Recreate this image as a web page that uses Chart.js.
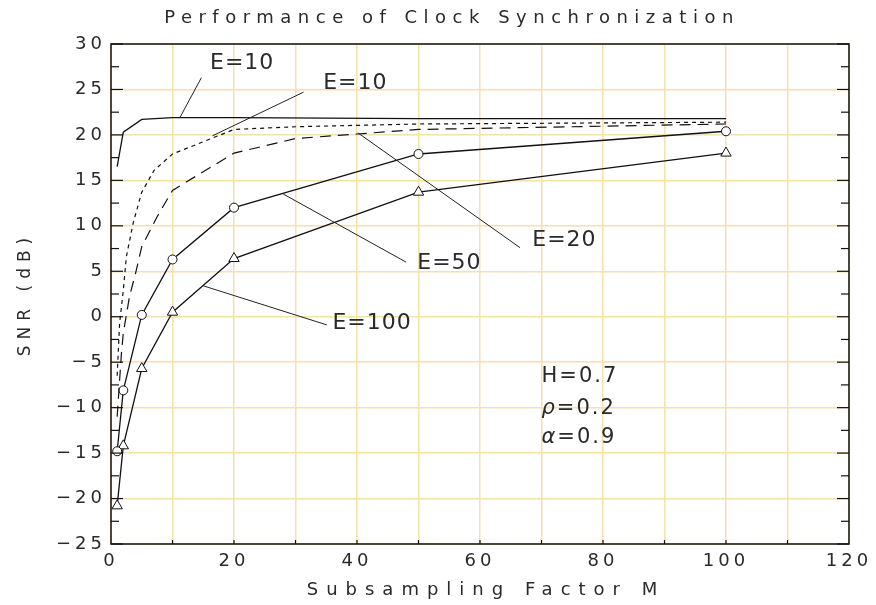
<!DOCTYPE html>
<html>
<head>
<meta charset="utf-8">
<title>Performance of Clock Synchronization</title>
<script src="https://cdn.jsdelivr.net/npm/chart.js@4.4.0/dist/chart.umd.min.js"></script>
<style>
  html, body { margin: 0; padding: 0; background: #fff; }
  #snrChart { display: block; }
</style>
</head>
<body>
<canvas id="snrChart" width="876" height="605"></canvas>
<script>
// Subsampling factors where the marked curves were evaluated
const M_POINTS = [1, 2, 5, 10, 20, 50, 100];

// SNR (dB) per curve
const SNR_E100 = [-20.8, -14.2, -5.7, 0.5, 6.4, 13.7, 18.0];
const SNR_E50 = [-14.8, -8.1, 0.2, 6.3, 12.0, 17.9, 20.4];
const SNR_E10_SOLID = [16.5, 20.3, 21.7, 21.9, 21.9, 21.8, 21.8];

// dashed curves are sampled more densely
const M_E20 = [1, 1.7, 2, 3, 4, 5, 7.5, 10, 20, 30, 40, 50, 100];
const SNR_E20 = [-11, -4, -1.8, 2.2, 4.8, 7.7, 11, 13.9, 18.0, 19.6, 20.1, 20.6, 21.2];
const M_E10 = [1, 1.4, 2, 2.5, 3.6, 5, 7, 10, 20, 30, 50, 100];
const SNR_E10 = [-6.5, -0.7, 2.9, 6.6, 10.3, 13.7, 16.1, 17.9, 20.6, 20.9, 21.2, 21.4];

// axis ranges / tick steps
const X_RANGE = [0, 120];
const Y_RANGE = [-25, 30];
const X_GRID_STEP = 10, X_LABEL_STEP = 20;
const Y_GRID_STEP = 2.5, Y_LABEL_STEP = 5;

const TEXT_COLOR = '#2a2a2a';
const GRID_COLOR = '#f4e2a8';
const FONT = '"DejaVu Sans", sans-serif';

// callouts: [label, label x, label y, pointer from, pointer to] in data units
const callouts = [
    ['E=10', 16.1, 27.9, [14.7, 26.3], [11.2, 21.9]],
    ['E=10', 34.5, 25.7, [31.3, 24.7], [16.5, 19.9]],
    ['E=20', 68.5, 8.4, [40.2, 20.2], [66.5, 7.6]],
    ['E=50', 49.8, 5.9, [28, 13.5], [48, 6.0]],
    ['E=100', 36, -0.7, [15, 3.4], [35.1, -0.9]]
];
// parameter block: [symbol, value text, y]
const params = [['H', '=0.7', -6.6], ['\u03C1', '=0.2', -10.1], ['\u03B1', '=0.9', -13.3]];

function toPoints(xs, ys) {
    return xs.map((x, i) => ({ x: x, y: ys[i] }));
}

function fmtMinus(v) {
    return String(v).replace('-', '\u2212');
}

// frame, inward ticks, titles and the callout text
const decorations = {
    id: 'decorations',
    afterDraw(chart) {
        const { ctx, chartArea: a, scales: { x, y } } = chart;
        const seg = (x1, y1, x2, y2) => {
            ctx.beginPath();
            ctx.moveTo(x1, y1);
            ctx.lineTo(x2, y2);
            ctx.stroke();
        };
        ctx.save();
        ctx.strokeStyle = '#111';
        ctx.lineWidth = 1.5;
        ctx.strokeRect(a.left, a.top, a.right - a.left, a.bottom - a.top);

        ctx.lineWidth = 1.2;
        for (let v = Y_RANGE[0]; v <= Y_RANGE[1]; v += Y_GRID_STEP) {
            const py = y.getPixelForValue(v);
            const len = (v % Y_LABEL_STEP === 0) ? 12 : 8;
            seg(a.left, py, a.left + len, py);
            seg(a.right, py, a.right - len, py);
        }
        for (let v = X_RANGE[0] + X_GRID_STEP; v < X_RANGE[1]; v += X_GRID_STEP) {
            const px = x.getPixelForValue(v);
            seg(px, a.bottom, px, a.bottom - 4);
        }

        // pointer lines
        ctx.lineWidth = 1;
        ctx.strokeStyle = '#222';
        callouts.forEach(c => {
            seg(x.getPixelForValue(c[3][0]), y.getPixelForValue(c[3][1]),
                x.getPixelForValue(c[4][0]), y.getPixelForValue(c[4][1]));
        });

        ctx.fillStyle = TEXT_COLOR;
        ctx.textBaseline = 'middle';
        ctx.textAlign = 'left';
        ctx.letterSpacing = '1px';
        ctx.font = '22px ' + FONT;
        callouts.forEach(c => {
            ctx.fillText(c[0], x.getPixelForValue(c[1]), y.getPixelForValue(c[2]));
        });

        // symbol in italics, value upright
        ctx.letterSpacing = '2px';
        params.forEach(p => {
            let px = x.getPixelForValue(70);
            const py = y.getPixelForValue(p[2]);
            ctx.font = (p[0] === 'H' ? '' : 'italic ') + '21px ' + FONT;
            ctx.fillText(p[0], px, py);
            px += ctx.measureText(p[0]).width;
            ctx.font = '21px ' + FONT;
            ctx.fillText(p[1], px, py);
        });

        // titles
        ctx.textAlign = 'center';
        ctx.font = '18px ' + FONT;
        ctx.letterSpacing = '6.5px';
        ctx.fillText('Performance of Clock Synchronization', 452, 18);
        ctx.letterSpacing = '8px';
        ctx.fillText('Subsampling Factor M', (a.left + a.right) / 2 + 6, 590);
        ctx.font = '17px ' + FONT;
        ctx.letterSpacing = '6px';
        ctx.translate(26, (a.top + a.bottom) / 2);
        ctx.rotate(-Math.PI / 2);
        ctx.fillText('SNR (dB)', 0, 0);
        ctx.restore();
    }
};

const baseLine = {
    borderColor: '#111',
    borderWidth: 1.3,
    pointBorderColor: '#111',
    pointBackgroundColor: '#fff',
    pointBorderWidth: 1,
    fill: false,
    tension: 0
};

const ctx = document.getElementById('snrChart').getContext('2d');
new Chart(ctx, {
    type: 'line',
    data: {
        datasets: [
            { ...baseLine, label: 'E=10 bound', data: toPoints(M_POINTS, SNR_E10_SOLID), pointRadius: 0 },
            { ...baseLine, label: 'E=10', data: toPoints(M_E10, SNR_E10), pointRadius: 0, borderDash: [4, 4], borderWidth: 1.2 },
            { ...baseLine, label: 'E=20', data: toPoints(M_E20, SNR_E20), pointRadius: 0, borderDash: [11, 7], borderWidth: 1.2 },
            { ...baseLine, label: 'E=50', data: toPoints(M_POINTS, SNR_E50), pointStyle: 'circle', pointRadius: 4.5 },
            { ...baseLine, label: 'E=100', data: toPoints(M_POINTS, SNR_E100), pointStyle: 'triangle', pointRadius: 6 }
        ]
    },
    options: {
        responsive: false,
        animation: false,
        devicePixelRatio: 1,
        layout: { padding: { top: 44, right: 27, bottom: 0, left: 0 } },
        plugins: {
            legend: { display: false },
            tooltip: { enabled: false }
        },
        scales: {
            x: {
                type: 'linear',
                min: X_RANGE[0],
                max: X_RANGE[1],
                afterFit: s => { s.height = 61; },
                border: { display: false },
                grid: { color: GRID_COLOR, lineWidth: 1.5, drawTicks: false },
                ticks: {
                    stepSize: X_GRID_STEP,
                    padding: 7,
                    color: TEXT_COLOR,
                    font: { family: FONT, size: 18 },
                    callback: v => (v % X_LABEL_STEP === 0 ? String(v) : '')
                }
            },
            y: {
                min: Y_RANGE[0],
                max: Y_RANGE[1],
                afterFit: s => { s.width = 111; },
                border: { display: false },
                grid: { color: GRID_COLOR, lineWidth: 1.5, drawTicks: false },
                ticks: {
                    stepSize: Y_GRID_STEP,
                    padding: 5,
                    color: TEXT_COLOR,
                    font: { family: FONT, size: 18 },
                    callback: v => (v % Y_LABEL_STEP === 0 ? fmtMinus(v) : '')
                }
            }
        }
    },
    plugins: [{
        id: 'spacing',
        beforeDraw(chart) { chart.ctx.letterSpacing = '4px'; }
    }, decorations]
});
</script>
</body>
</html>
